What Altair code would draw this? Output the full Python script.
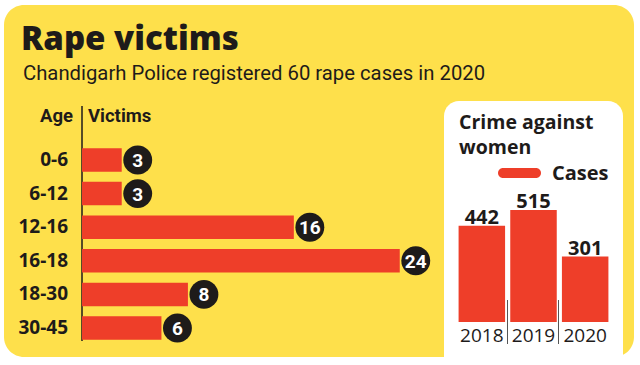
import altair as alt
import pandas as pd

# Rape victims by age group (Chandigarh, 2020)
ages = ["0-6", "6-12", "12-16", "16-18", "18-30", "30-45"]
victims = [3, 3, 16, 24, 8, 6]

# Crime against women, cases per year
years = ["2018", "2019", "2020"]
cases = [442, 515, 301]

YELLOW = "#FEE04B"
RED = "#EE3E29"
INK = "#1E1B1A"
NARROW = "Roboto, Liberation Sans, sans-serif"
SANS = "Open Sans, Liberation Sans, sans-serif"

age_df = pd.DataFrame({"age": ages, "victims": victims})
year_df = pd.DataFrame({"year": years, "cases": cases})
one = alt.Data(values=[{}])

# ---- shared scales -------------------------------------------------------
age_y = alt.Y("age:N", sort=ages, axis=None,
              scale=alt.Scale(domain=ages, range=[143.2, 344.8],
                              paddingInner=0.30, paddingOuter=0.15))
vic_x = alt.X("victims:Q", axis=None,
              scale=alt.Scale(domain=[0, 25], range=[82, 413], nice=False))

year_x = alt.X("year:N", sort=years, axis=None,
               scale=alt.Scale(domain=years, range=[456, 611],
                               paddingInner=0.1, paddingOuter=0.05))
cases_y = alt.Y("cases:Q", axis=None,
                scale=alt.Scale(domain=[0, 600], range=[322, 191.5], nice=False))


def label(text, x, y, size, font=SANS, weight="normal", align="left",
          color=INK, baseline="alphabetic", line_height=None):
    props = dict(font=font, fontSize=size, fontWeight=weight, align=align,
                 baseline=baseline, color=color)
    if line_height is not None:
        props["lineHeight"] = line_height
    return alt.Chart(one).mark_text(**props).encode(
        x=alt.value(x), y=alt.value(y), text=alt.value(text))


# ---- background panels ---------------------------------------------------
card = alt.Chart(one).mark_rect(color=YELLOW, cornerRadius=20).encode(
    x=alt.value(4), x2=alt.value(634), y=alt.value(5), y2=alt.value(357))
inset = alt.Chart(one).mark_rect(color="white", cornerRadius=15).encode(
    x=alt.value(444), x2=alt.value(623), y=alt.value(101), y2=alt.value(400))

title = label("Rape victims", 21, 50, 33, font=SANS, weight=800)
subtitle = label("Chandigarh Police registered 60 rape cases in 2020",
                 23, 80, 20.3, font=NARROW)

# ---- left: victims by age ------------------------------------------------
age_head = label("Age", 73, 122, 18.5, font=NARROW, weight="bold", align="right")
vic_head = label("Victims", 88, 122, 18.5, font=NARROW, weight="bold")
axis_line = alt.Chart(one).mark_rule(color=INK, strokeWidth=1.5).encode(
    x=alt.value(82), y=alt.value(106), y2=alt.value(341))

base_left = alt.Chart(age_df)
age_bars = base_left.mark_bar(color=RED).encode(x=vic_x, y=age_y)
age_names = base_left.mark_text(
    font=SANS, fontSize=19, fontWeight="bold", align="right",
    baseline="middle", color=INK,
).encode(x=alt.value(68), y=age_y, text="age:N")
bubbles = base_left.mark_circle(size=835, color=INK, opacity=1, xOffset=16).encode(
    x=vic_x, y=age_y)
bubble_text = base_left.mark_text(
    font=NARROW, fontSize=19, fontWeight="bold", color="white",
    baseline="middle", align="center", xOffset=16, yOffset=1,
).encode(x=vic_x, y=age_y, text="victims:Q")

left = alt.layer(age_bars, bubbles, bubble_text, age_names)

# ---- right: crime against women ------------------------------------------
panel_title = label(["Crime against", "women"], 459, 129, 19.5, weight="bold",
                    line_height=25)
legend_key = alt.Chart(one).mark_rect(color=RED, cornerRadius=5).encode(
    x=alt.value(498), x2=alt.value(541), y=alt.value(168), y2=alt.value(178))
legend_txt = label("Cases", 552, 180, 20, weight="bold")

base_right = alt.Chart(year_df)
case_bars = base_right.mark_bar(color=RED).encode(x=year_x, y=cases_y)
case_vals = base_right.mark_text(
    font=SANS, fontSize=20, fontWeight="bold", color=INK,
    baseline="alphabetic", dy=-2,
).encode(x=year_x, y=cases_y, text="cases:Q")
year_names = base_right.mark_text(
    font=SANS, fontSize=19, color=INK, baseline="alphabetic",
).encode(x=year_x, y=alt.value(342), text="year:N")
separators = alt.Chart(alt.Data(values=[{"sx": 507.5}, {"sx": 558.5}])).mark_rule(
    color="#555555", strokeWidth=1).encode(
    x=alt.X("sx:Q", scale=None), y=alt.value(300), y2=alt.value(344))

right = alt.layer(case_bars, case_vals, year_names)

chart = alt.layer(
    card, inset, title, subtitle,
    age_head, vic_head, axis_line,
    left,
    panel_title, legend_key, legend_txt, separators,
    right,
).resolve_scale(x="independent", y="independent").properties(
    width=640, height=365, autosize="none", padding=0, background="white",
).configure_view(stroke=None)

chart.save("out.html", embed_options={"renderer": "svg", "actions": False})
